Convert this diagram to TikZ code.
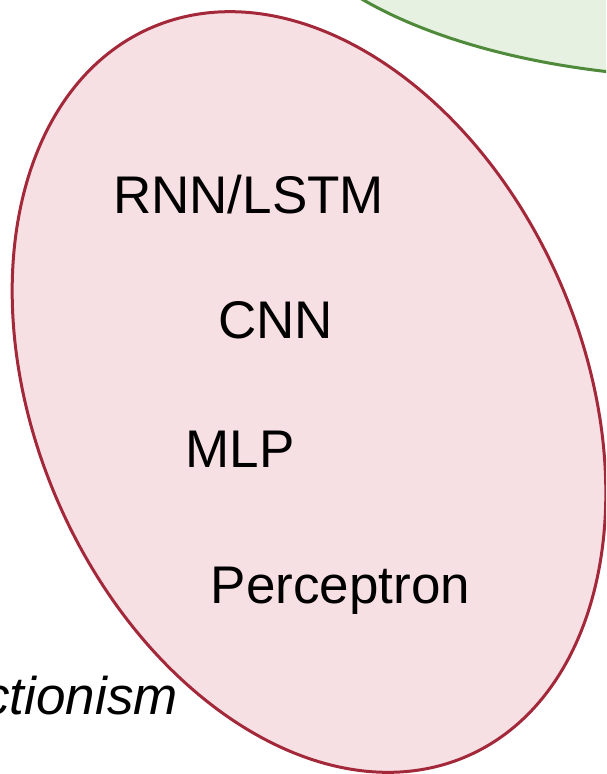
\documentclass[tikz,border=0pt]{standalone}
\usepackage{fontspec}
\setmainfont{Liberation Sans}
\definecolor{pinkfill}{HTML}{F7E0E4}
\definecolor{pinkline}{HTML}{A3283A}
\definecolor{greenfill}{HTML}{E6F1E2}
\definecolor{greenline}{HTML}{4E8A3A}
\tikzset{
  region/.style={line width=3pt},
  term/.style={inner sep=0pt, anchor=base, font=\fontsize{53}{60}\selectfont},
}
\begin{document}
\begin{tikzpicture}[x=1pt, y=-1pt]
  \useasboundingbox (0,0) rectangle (606,774);
  \clip (0,0) rectangle (606,774);
  % neighbouring set, top right
  \draw[region, draw=greenline, fill=greenfill] (720,-122) ellipse [x radius=450pt, y radius=200pt];
  % neural network family
  \draw[region, draw=pinkline, fill=pinkfill, rotate around={23.4:(309,392)}]
    (309,392) ellipse [x radius=274pt, y radius=397pt];
  \node[term] (rnn) at (248.5,213) {RNN/LSTM};
  \node[term] (cnn) at (275.5,338) {CNN};
  \node[term] (mlp) at (240,467) {MLP};
  \node[term] (perc) at (340.5,603) {Perceptron};
  \node[term, anchor=base east, font=\fontsize{53}{60}\selectfont\itshape] (conn) at (178,714) {Connectionism};
\end{tikzpicture}
\end{document}
